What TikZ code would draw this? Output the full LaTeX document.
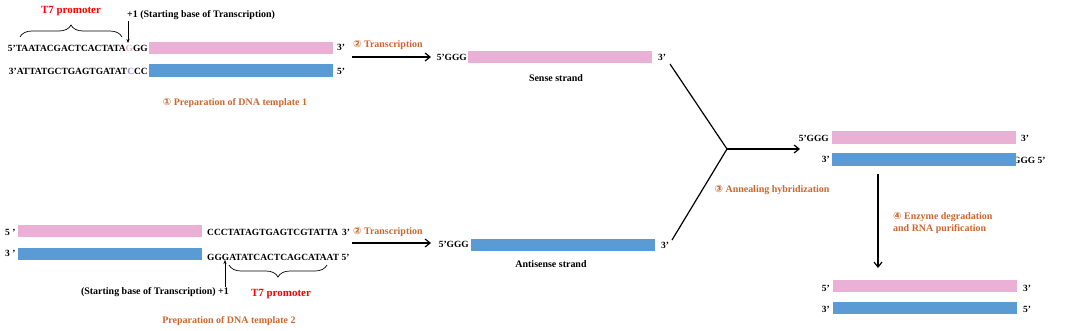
\documentclass[tikz,border=0pt]{standalone}
\usepackage{fontspec}
\setmainfont{Liberation Serif}
\newfontfamily\circfont{DejaVu Sans}
\usetikzlibrary{arrows.meta, positioning, decorations.pathreplacing}

\definecolor{senspink}{RGB}{234,176,214}
\definecolor{antiblue}{RGB}{91,155,213}
\definecolor{steporange}{RGB}{204,102,45}
\definecolor{gpale}{RGB}{238,170,200}
\definecolor{cpale}{RGB}{140,140,215}

\begin{document}
\begin{tikzpicture}[
    x=1bp, y=-1bp,
    >={Straight Barb[length=5bp, width=8bp]},
    every node/.style={font=\bfseries\fontsize{10}{12}\selectfont, inner sep=0pt},
    seq/.style={font=\bfseries\fontsize{9.5}{11}\selectfont},
    sbar/.style={fill=senspink, minimum width=184bp, minimum height=12.5bp, anchor=west},
    abar/.style={fill=antiblue, minimum width=184bp, minimum height=12.5bp, anchor=west},
    steplbl/.style={text=steporange},
    promo/.style={text=red, font=\bfseries\fontsize{11}{13}\selectfont},
    brc/.style={decorate, decoration={brace, amplitude=12bp}},
    flow/.style={->, line width=1.2pt}
]
\useasboundingbox (0,0) rectangle (1080,330);

% DNA template 1
\node[promo] (t7a) at (71,11) {T7 promoter};
\draw[brc, line width=0.7pt] (20,37) -- (122,37);
\node[anchor=west] (plus1a) at (127,15) {+1 (Starting base of Transcription)};
\coordinate (p1top) at (128,21);
\coordinate (p1bot) at (128,43);
\draw[->, >={Stealth[length=4bp]}] (p1top) -- (p1bot);
\node[seq, anchor=east] (seq1s) at (148,48) {5’TAATACGACTCACTATA\textcolor{gpale}{G}GG};
\node[sbar] (b1s) at (149,48) {};
\node[seq, anchor=west] (e1s) at (337,47) {3’};
\node[seq, anchor=east] (seq1a) at (148,71) {3’ATTATGCTGAGTGATAT\textcolor{cpale}{C}CC};
\node[abar] (b1a) at (149,70.5) {};
\node[seq, anchor=west] (e1a) at (337,71) {5’};
\node[steplbl] (prep1) at (235,103) {{\circfont ①} Preparation of DNA template 1};

% DNA template 2
\node[seq, anchor=west] (f2s) at (5,232) {5 ’};
\node[sbar] (b2s) at (18,231) {};
\node[seq, anchor=west] (seq2s) at (207,232) {CCCTATAGTGAGTCGTATTA\, 3’};
\node[seq, anchor=west] (f2a) at (5,253) {3 ’};
\node[abar] (b2a) at (18,254) {};
\node[seq, anchor=west] (seq2a) at (207,257) {GGGATATCACTCAGCATAAT 5’};
\coordinate (p2bot) at (225,287);
\coordinate (p2top) at (225,260);
\draw[->, >={Stealth[length=4bp]}] (p2bot) -- (p2top);
\node[anchor=east] (plus1b) at (229,292) {(Starting base of Transcription) +1};
\draw[brc, line width=0.7pt] (327,265) -- (229,265);
\node[promo] (t7b) at (281,294) {T7 promoter};
\node[steplbl] (prep2) at (229,321) {Preparation of DNA template 2};

% transcription
\coordinate (tr1) at (352,57);
\coordinate (tr1e) at (431,57);
\coordinate (tr2) at (352,243);
\coordinate (tr2e) at (431,243);
\node[seq, anchor=east] (g5s) at (467,57) {5’GGG};
\node[sbar] (bss) at (468,57) {};
\node[seq, anchor=west] (g3s) at (658,57) {3’};
\node (sense) at (556,78) {Sense strand};
\draw[flow] (tr1) -- (tr1e);
\node[steplbl, anchor=south west] (trl1) at (353,50) {{\circfont ②} Transcription};

\node[seq, anchor=east] (g5a) at (469,244) {5’GGG};
\node[abar] (bas) at (471,245) {};
\node[seq, anchor=west] (g3a) at (661,245) {3’};
\node (anti) at (551,264) {Antisense strand};
\draw[flow] (tr2) -- (tr2e);
\node[steplbl, anchor=south west] (trl2) at (353,237) {{\circfont ②} Transcription};

% annealing
\coordinate (sjoin) at (670,64);
\coordinate (ajoin) at (672,240);
\coordinate (join) at (727,149);
\coordinate (hybin) at (800,149);
\draw[line width=1.2pt] (sjoin) -- (join) -- (ajoin);
\draw[flow] (join) -- (hybin);
\node[steplbl] (ann) at (772,190) {{\circfont ③} Annealing hybridization};

\node[seq, anchor=east] (h5s) at (829,138) {5’GGG};
\node[sbar] (hbs) at (832,137.5) {};
\node[seq, anchor=west] (h3s) at (1021,138) {3’};
\node[seq, anchor=east] (h3a) at (830,159) {3’};
\node[seq, anchor=west] (h5a) at (1013,160) {GGG 5’};
\node[abar] (hba) at (832,159.5) {};

% degradation
\coordinate (deg1) at (878,174);
\coordinate (deg2) at (878,268);
\draw[flow] (deg1) -- (deg2);
\node[steplbl, align=left, anchor=north west] (degl) at (893,212) {{\circfont ④} Enzyme degradation\\and RNA purification};

\node[seq, anchor=east] (r5s) at (830,288) {5’};
\node[sbar] (rbs) at (833,286) {};
\node[seq, anchor=west] (r3s) at (1023,288) {3’};
\node[seq, anchor=east] (r3a) at (830,309) {3’};
\node[abar] (rba) at (833,308) {};
\node[seq, anchor=west] (r5a) at (1023,309) {5’};
\end{tikzpicture}
\end{document}
